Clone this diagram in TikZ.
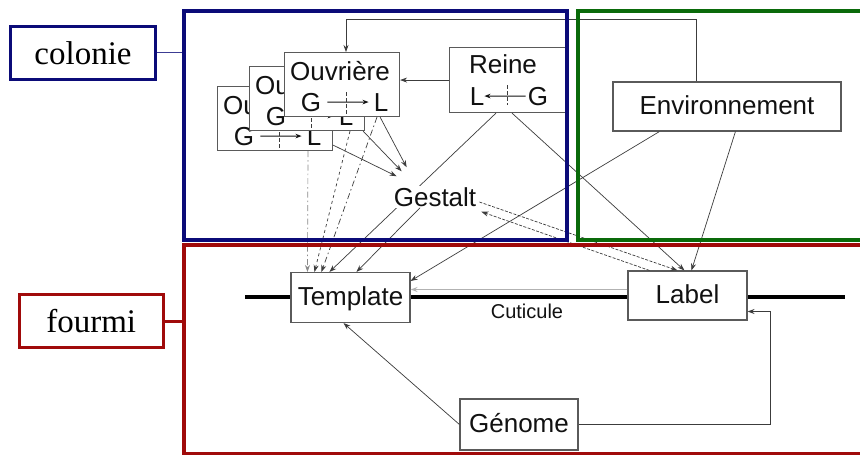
\documentclass[tikz,border=0pt]{standalone}
\usepackage{fontspec}
\setmainfont{Liberation Sans}
\newfontfamily\serifface{Liberation Serif}
\usetikzlibrary{arrows.meta,calc}
\definecolor{navyf}{HTML}{0B0B78}
\definecolor{greenf}{HTML}{0A6A0A}
\definecolor{redf}{HTML}{A00A0A}
\definecolor{lgray}{HTML}{3C3C3C}
\definecolor{bgray}{HTML}{5A5A5A}
\definecolor{dgray}{HTML}{8A8A8A}
\definecolor{txt}{HTML}{111111}
\newcommand\dfont{\fontsize{26}{30}\selectfont}
\newcommand\lfont{\serifface\fontsize{33}{38}\selectfont}
% worker box: name, x, y of north-west corner
\newcommand\ouvbox[3]{%
  \node[box, anchor=north west, minimum width=115pt, minimum height=64pt] (#1) at (#2,#3) {};
  \node[dtext, anchor=base] (#1-t) at ($(#1.north west)+(56,28)$) {Ouvrière};
  \node[dtext, anchor=base] (#1-g) at ($(#1.north west)+(27,59)$) {G};
  \node[dtext, anchor=base] (#1-l) at ($(#1.north west)+(97,59)$) {L};
  \draw[tinyarr, shorten <=6pt, shorten >=5pt] (#1-g) -- (#1-l);
  \draw[tick] ($(#1-g)!0.5!(#1-l)+(0,-10)$) -- +(0,22);
}
\begin{document}
\begin{tikzpicture}[x=1pt,y=-1pt,
  box/.style={draw=bgray,line width=1.1pt,fill=white,inner sep=0pt,text=txt,font=\dfont,text height=19pt,text depth=4pt},
  dtext/.style={inner sep=0pt,text=txt,font=\dfont},
  conn/.style={draw=lgray,line width=0.7pt,-{Stealth[length=7pt,width=5pt]}},
  tinyarr/.style={draw=txt,line width=1pt,-{Stealth[length=6pt,width=4.5pt]}},
  tick/.style={draw=lgray,line width=0.7pt,dash pattern=on 4pt off 2pt},
  dashdot/.style={dash pattern=on 6pt off 3pt on 1.5pt off 3pt},
  frame/.style={line width=4pt,inner sep=0pt,anchor=north west},
  tag/.style={line width=3pt,fill=white,inner sep=0pt,font=\lfont,text=black}
]
\useasboundingbox (0,0) rectangle (860,455);
\fill[white] (0,0) rectangle (860,455);

% cuticle
\coordinate (cutL) at (245,297);
\coordinate (cutR) at (845,297);
\draw[line width=4pt,black] (cutL) -- (cutR);
\node[inner sep=0pt,font=\fontsize{20}{24}\selectfont,text=txt] (cut) at (527,311) {Cuticule};

% worker boxes, back to front
\ouvbox{ouvA}{217}{86}
\ouvbox{ouvB}{249}{66}
\ouvbox{ouvC}{284}{52}

% queen
\node[box, anchor=north west, minimum width=116pt, minimum height=65pt] (reine) at (449,47) {};
\node[dtext, anchor=base] (reine-t) at ($(reine.north west)+(54,26)$) {Reine};
\node[dtext, anchor=base] (reine-l) at ($(reine.north west)+(28,58)$) {L};
\node[dtext, anchor=base] (reine-g) at ($(reine.north west)+(89,58)$) {G};
\draw[tinyarr, shorten <=2pt, shorten >=0pt] (reine-g) -- (reine-l);
\draw[tick] ($(reine-g)!0.5!(reine-l)+(0,-11)$) -- +(0,20);

% other boxes
\node[box, minimum width=228pt, minimum height=49pt] (env) at (727,106.5) {Environnement};
\node[box, minimum width=119pt, minimum height=50pt] (tmpl) at (350.5,297.5) {Template};
\node[box, minimum width=119pt, minimum height=49pt] (lab) at (687.5,295.5) {Label};
\node[box, minimum width=118pt, minimum height=51pt] (gen) at (519,424.5) {Génome};

% Reine -> Template (passes behind Gestalt)
\draw[conn] ($(reine.south west)+(47,0)$) -- ($(tmpl.north west)+(39,0)$);

% Gestalt
\node[dtext, fill=white, inner sep=1pt] (gest) at (435,197) {Gestalt};

% environment loop to front worker
\draw[conn] ($(env.north west)+(84,0)$) |- ($(ouvC.north west)+(62,-33)$) -- ($(ouvC.north west)+(62,0)$);
% Reine -> worker
\draw[conn] (reine.west) -- (reine.west -| ouvC.east);

% workers -> Gestalt
\draw[conn] ($(ouvA.south east)+(0,-6)$) -- ($(gest.north west)+(4,-10)$);
\draw[conn] ($(ouvB.south east)+(-2,0)$) -- ($(gest.north west)+(9,-15)$);
\draw[conn] ($(ouvC.south east)+(-20,0)$) -- ($(gest.north west)+(14,-19)$);

% workers -> Template
\draw[conn, draw=dgray, dashdot] ($(ouvA.south west)+(91,0)$) -- ($(tmpl.north west)+(17,0)$);
\draw[conn, dashed] ($(ouvB.south west)+(101,0)$) -- ($(tmpl.north west)+(24,0)$);
\draw[conn, dashdot] ($(ouvC.south west)+(93,0)$) -- ($(tmpl.north west)+(31,0)$);

% Gestalt -> Template
\draw[conn] ($(gest.south)+(-15,0)$) -- ($(tmpl.north west)+(66,0)$);
% Reine -> Label
\draw[conn] ($(reine.south west)+(63,0)$) -- ($(lab.north west)+(57,0)$);
% Environnement -> Template, Label
\draw[conn] ($(env.south west)+(47,0)$) -- ($(tmpl.north east)+(0,9)$);
\draw[conn] ($(env.south west)+(123,0)$) -- ($(lab.north west)+(64,0)$);
% Gestalt <-> Label
\draw[conn, dashed, dash pattern=on 3pt off 1.5pt] ($(gest.east)+(2,5)$) -- ($(lab.north west)+(50,0)$);
\draw[conn, dashed, dash pattern=on 3pt off 1.5pt] ($(lab.north west)+(22,0)$) -- ($(gest.south east)+(4,4)$);
% Label -> Template
\coordinate (lw) at ($(lab.west)+(0,-6)$);
\draw[conn, draw=gray!60, line width=1.2pt] (lw) -- (lw -| tmpl.east);
% Genome -> Template, Label
\draw[conn] (gen.west) -- ($(tmpl.south)+(-7,0)$);
\coordinate (gl) at ($(lab.east)+(23,16)$);
\draw[conn] (gen.east) -| (gl) -- (gl -| lab.east);

% frames
\node[frame, draw=navyf, minimum width=383.5pt, minimum height=229pt] (colfr) at (181.5,8.5) {};
\node[frame, draw=greenf, minimum width=290pt, minimum height=229pt] (envfr) at (575.5,8.5) {};
\node[frame, draw=redf, minimum width=684pt, minimum height=209pt] (antfr) at (181.5,243) {};

% tags
\node[tag, draw=navyf, minimum width=144.5pt, minimum height=52.5pt] (colonie) at (83,52.75) {colonie};
\node[tag, draw=redf, minimum width=144.5pt, minimum height=53pt] (fourmi) at (91.25,321) {fourmi};
\draw[navyf!80!white, line width=1pt] (colonie.east) -- (colonie.east -| colfr.west);
\draw[redf, line width=3pt] (fourmi.east) -- (fourmi.east -| antfr.west);
\end{tikzpicture}
\end{document}
